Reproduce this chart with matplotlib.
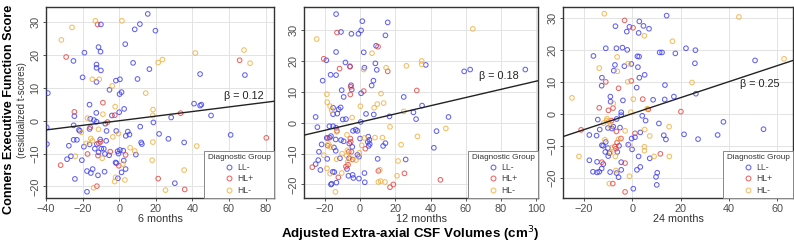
import matplotlib
matplotlib.use("Agg")
import matplotlib.pyplot as plt
from matplotlib.lines import Line2D
import numpy as np

plt.rcParams['font.family'] = ['Liberation Sans', 'DejaVu Sans']

groups = ["LL-", "HL+", "HL-"]
colors = {"LL-": "#3b3bef", "HL+": "#e5403c", "HL-": "#f2ad3a"}

# ---------- 6 months ----------
m6_LL_x = [15.6, -10, 11.3, 8.5, 19.8, 3.3, -11.3, -10.2, -19, -25, 7.6, 68.7, 44.2, 16.5, -12.4, -12.4, -10, -20,
           -12.4, 0.4, -1.8, 10, -5.3, 1.3, 0.2, -39, 40.9, 44.2, 44.9, -24.5, -16.2, 2.7, 0, -12.5, -4, 50.2, 28.4,
           -15.8, -13.8, -12.4, 18.7, -7.6, -24.9, -39.6, -16.2, -22, -21.5, -1.6, 4.7, 5.6, 3.6, 11.5, 21.8, -6.9,
           60.9, 26.9, -24.9, -23.1, -10.4, -7.1, -39.5, -27.5, -16.2, -12.2, 12, 12.4, 35.5, -19.3, -13.3, -9.8,
           -8.4, -11.3, 0.4, -0.9, 2.2, -7.8, -5.5, -0.4, 9.1, -26.4, -20.4, -2, -1.5, 2.5, -28.5, 3.5, 1.3, -14.5,
           -17.6, -15.5, -8, -11.6, -0.7, -24.2, 30.4, -17.6]
m6_LL_y = [32.5, 29.3, 29.4, 27.8, 27.4, 23.3, 22.4, 21, 20.7, 18.2, 17.6, 13.9, 14.2, 15.7, 17.1, 16.1, 15.3, 13.2,
           11.8, 12.6, 12.2, 12.7, 9.4, 8.7, 8.1, 8.4, 5.2, 4.6, 4.9, 1.4, 4.9, 3.6, 2.6, 2.4, 1.6, 1.6, 1,
           0.6, 0.2, -0.3, -0.5, -0.9, -1.4, -2, -2.5, -2.8, -3.1, -3.1, -3.3, -4.2, -4.6, -1.8, -4, -3.1,
           -4.3, -5.5, -5.8, -5.8, -5.7, -6.1, -7.1, -7.6, -7.2, -7.1, -6.6, -7.1, -6.6, -7.9, -8.5, -8.5,
           -8.5, -9.6, -8.9, -9.3, -9.1, -10.1, -10.5, -10, -10.3, -10.8, -12, -12.7, -12.9, -12.1, -11.7, -14.7, -15.7, -14.7,
           -15.3, -15.9, -15.5, -16.6, -17.5, -17.7, -19, -21.6]
m6_HLp_x = [-11.8, -29, 65.8, -24.5, -8.9, -2.4, 33.6, -6.4, -15.8, 80.4, -10.2, -11.1, -4.9, -17.3, -11.6, 3.5,
            -0.2, -32, 21.3, -12.2, 35.8]
m6_HLp_y = [29.3, 19.4, 18.4, 2.7, 5.5, 1.7, 2.3, -0.4, -2, -5.2, -6.4, -6.9, -9.4, -10.1, -10.6, -10.4,
            -13.7, -13.5, -17.6, -19.9, -20.9]
m6_HLm_x = [-13, 1.5, -25.8, -31.6, 23.6, 21.3, 41.6, 68.2, 71.5, -14.7, -10.9, -3.8, 14.5, -2.2, 18.5, -8.9,
            18.4, -17.3, -11.3, -20.7, -0.4, -3.5, -15.5, -14.7, -18, 18.4, 42.4, 6, 8.5, -24, -9.3, 18, 2, 35.5,
            -2, -2.5, 3.1, -14, 25.3]
m6_HLm_y = [30.4, 30.4, 28.4, 24.6, 18.6, 17.7, 20.6, 21.5, 17.5, 12.6, 12.6, 10.6, 8.4, 4.3, 3.4, 2,
            1.6, 0.8, -2.6, -3.5, -3.9, -4.9, -5.4, -6.1, -6.9, -6.5, -7.7, -8.2, -9.2, -10.8, -11.4, -12, -13.2, -15,
            -17.2, -18.5, -18, -20.4, -21.1]

# ---------- 12 months ----------
m12_LL_x = [-13.6, 1.3, 15.7, -10.8, -4.9, -0.9, 0.6, 14.4, 9.1, -13.6, 2.1, -19.1, -8.3, 8.7, 37.3, -5.7, 2.5,
            9.5, 59.1, 62.5, 93.8, -16.7, -13.6, -21.2, 7.6, 6.6, -5.1, -4.7, 0.6, -10.4, -9.3, 24.8, -15.3, -11,
            -12.1, -12.9, 35.2, 30.3, 31.8, -25.2, -15.3, 3.4, 7.8, 16.7, -9.8, -8, 0.4, 50.2, -24.2, -17.4, -15.3,
            -13.6, -4, -2.5, -1.5, 43.4, 4.7, -18.9, -17.2, -16.5, -13.8, 0, 5.3, -10.8, -9.3, 4.4, 14.4, 13.1, 5.5,
            4.9, -6.1, -21.8, -14.8, -13.8, -4.4, 41.9, -23.3, -1.5, -0.6, -18.6, -6.3, -11.4, 10, 25.9, -23.7,
            -25.2, -22.5, -15.5, -14.6, -7.4, -4.2, 2.5, -6.6, -3.8, -0.6, -16.1, -16.5, -13.4, 2.7]
m12_LL_y = [35.3, 33, 32.6, 29.5, 28.9, 28.9, 30, 28.4, 25, 23, 22.9, 20.3, 19.6, 19.3, 18.8, 18.2, 17.9,
            17.2, 16.7, 17.3, 17.3, 15.6, 15.5, 13.7, 13.7, 12.1, 12.2, 10.8, 9.6, 10.6, 8.4, 8.4, 4.9, 5,
            4.4, 3, 5.6, 3.4, 1.2, 1.9, 2.8, 2.9, 2.7, 2.1, 1.1, 1.2, 0.3, 1.9, -1.4, -1.1, -1.1,
            -1.6, -2.6, -2.2, -2.6, -2.7, -4.5, -4.9, -4.8, -4.3, -5.4, -5.1, -5.5, -5.6, -6, -6.2, -6.6, -7.5, -6.9,
            -7.5, -6.7, -7, -8, -9.1, -7.8, -8.1, -9.4, -10.4, -11, -11.7, -11.5, -11.5, -11.7, -11.9, -12.1,
            -13.4, -15.3, -15.9, -16, -15, -16.9, -16.3, -17.2, -17.9, -18.1, -19.8, -20, -19.4, -19.3]
m12_HLp_x = [-13.1, 10.2, -20.6, -11.6, -5.7, 15.7, -5.3, -5.5, 2.1, 32.2, -13.1, -18.2, -5.5, -5.3, -18.4, 3,
             -6.4, -4.9, -4.2, -6.8, -8, -27.1, 10.4, 25.2, -12.3, 45.6, 18.9, 17]
m12_HLp_y = [29.3, 24.7, 20.8, 17.6, 18.4, 16.7, 11.7, 9.2, 10.3, 10.5, -2.6, -4.9, -5.1, -6.2, -7.4, -8.4,
             -9.4, -9.4, -11.9, -13.6, -14.2, -14.4, -15.6, -16.4, -17.7, -18.5, -20, -20.9]
m12_HLm_x = [64, -24.6, 6.8, 35, 35, 26.3, 2.1, 14.8, -18.8, 11.9, -18.6, -17, -16.1, 0.2, 9.8, 8, 13.4, 24.8,
             -4.5, 17, -13.3, 48.7, -7.4, 8.5, 2.5, 12.7, 32.6, -17.8, 23.3, -16.7, 0.9, -7.2, -10.2, -0.4, -20.6,
             -7.6, -5.5, -13.3, -2.3, 21.6, -7, -18.8, -17, -10.4, 11.2, 21, 10.4, 11.7, 14.2, -14]
m12_HLm_y = [30.5, 27.2, 22.6, 20.1, 19, 18.5, 17.3, 17.9, 9.3, 9.5, 6.7, 5.4, 4.1, 5.4, 6.1, 4.9, 6.4, 3.7,
             1.7, -1.3, -2.9, -1.8, -3.9, -4.8, -4.9, -4.8, -4.4, -6.9, -7.1, -7.8, -7.3, -8.9, -10, -9.7, -10.5,
             -10.7, -11.5, -11.8, -12.1, -12.4, -12.7, -14.8, -16.5, -16.3, -15.2, -17.2, -19.2, -18.9, -19.2, -22.4]

# ---------- 24 months ----------
m24_LL_x = [14.2, 2.9, 4.6, -7, -1.2, 6.9, -2.3, 2.6, -11, -6.6, -4.1, -2.1, 22.2, 26.1, 11.3, 12.3, 17.8, -16.1,
            2.1, 2.8, 50.8, -7.2, -0.4, 25.9, -3.3, 2.3, -7.7, 5.1, -12.6, 2.9, 13.5, -12.7, 1.8, -9.1, 17.2, 26.3,
            -3.9, 8.6, 13.4, -9, -4.6, -4.6, 4.1, -14.3, -6.5, 5.5, 37.7, -13.5, -10.1, -8.4, -7.9, -5.1, 11, 54.3,
            3.3, -17.8, -14.8, 21.4, 35.3, 13, 1.1, -0.3, 13.9, 27.2, -11, -12.6, -12.1, -5.5, -1.7, -10.1, -0.1,
            -11.2, -9.5, -10, -6.2, 2.6, 7.2, -17.8, -14.6, -12, -4.6, 3.3, -16.3, -14.6, -13.7, -12.7, -9.2, -4.6,
            1.9, -6.5, -5.7, 10.3, 9.8, 10.1, 0.4]
m24_LL_y = [30.7, 28.9, 27.5, 27.4, 27.2, 26.6, 25.7, 25.3, 20.5, 20.5, 20.7, 20, 20.5, 19.9, 19.2, 19.2, 18.9, 18.1,
            18, 17.9, 16.7, 15.3, 15.6, 15.8, 14.9, 14.6, 13.5, 12.2, 11.3, 11.3, 9, 8.8, 8.2, 5.4, 5.4, 6.3,
            4.2, 4.4, 4.5, 3.8, 0.5, -0.4, -0.6, -1.8, -1.6, -2.1, -2.5, -4.9, -4.4, -4.6, -4, -4.3, -3, -4.8,
            -5.8, -6.6, -6.8, -6.4, -6.6, -6.7, -7.3, -7.7, -8, -7.9, -8.8, -9.8, -10, -10, -9.6, -10.7, -11.1,
            -11.9, -12.3, -13.2, -11.9, -13.3, -13.9, -14.5, -15, -15.7, -15.1, -16.6, -18.1, -18.3, -18.1, -17.1, -18.2, -17.5,
            -17.5, -18.5, -19.8, -18.4, -19.7, -22.2, -23.4]
m24_HLp_x = [-3.2, 0.3, -11, -0.4, -5.7, 4.3, -13.7, -8, -9.9, 6.6, 20.1, -8.6, -21.2, -6.6, 1.1, -4.7, -6.3,
             -7.2, -6.8, 11.6, -12.6, -3, -8.1, -3]
m24_HLp_y = [29.2, 26.9, 10, 10.3, 8, 4.6, 1.9, 1.8, 1.1, 1.4, 0.7, -2.1, -5, -5.5, -6.1, -7.7, -9,
             -10.2, -10.9, -12.5, -15.1, -15.4, -21.8, -24.4]
m24_HLm_x = [-11.6, 44.1, 5, 16.6, -6.3, 62.8, -1.7, -13.7, -6.2, -1.9, 24.7, -25, 0.4, -7.9, 6.1, -0.6, -10.5,
             -10.6, -9.7, -9.1, -11.9, -3, 15.2, 5.1, 7.2, -11.4, -5.7, -1.1, -8.4, 5, 5, -9, -7, -22.1, 9, 15.3,
             -6.8, -1.2, -9.5]
m24_HLm_y = [31.3, 30.3, 24.4, 22.7, 17.8, 17.2, 15.7, 14.3, 13.3, 10, 9.8, 5, 4.6, 3.3, 1.6, 0.5, -1.5,
             -2.1, -2.4, -3.8, -2.9, -5.3, -4, -4.9, -6.9, -8.1, -7.9, -9.9, -10.5, -10.3, -11.5, -12.1, -13.3, -13.3, -13.3, -13.3,
             -17.7, -19.5, -21.8]

panels = [
    dict(label="6 months", LL=(m6_LL_x, m6_LL_y), HLp=(m6_HLp_x, m6_HLp_y), HLm=(m6_HLm_x, m6_HLm_y),
         beta="β = 0.12", intercept=0.0, slope=0.07, xlim=(-40, 84.6), ylim=(-23.5, 34.6),
         xticks=[-40, -20, 0, 20, 40, 60, 80], yticks=[-20, -10, 0, 10, 20, 30], beta_pos=(68, 7.6)),
    dict(label="12 months", LL=(m12_LL_x, m12_LL_y), HLp=(m12_HLp_x, m12_HLp_y), HLm=(m12_HLm_x, m12_HLm_y),
         beta="β = 0.18", intercept=0.23, slope=0.133, xlim=(-31.8, 101), ylim=(-24.4, 37.6),
         xticks=[-20, 0, 20, 40, 60, 80, 100], yticks=[-20, -10, 0, 10, 20, 30], beta_pos=(78.7, 15.2)),
    dict(label="24 months", LL=(m24_LL_x, m24_LL_y), HLp=(m24_HLp_x, m24_HLp_y), HLm=(m24_HLm_x, m24_HLm_y),
         beta="β = 0.25", intercept=0.07, slope=0.25, xlim=(-28.7, 66.5), ylim=(-26.3, 33.4),
         xticks=[-20, 0, 20, 40, 60], yticks=[-20, -10, 0, 10, 20, 30], beta_pos=(52.7, 9.4)),
]

W, H = 794, 244
fig = plt.figure(figsize=(W / 100, H / 100), dpi=100)
boxes = [(46, 274), (304, 538), (563, 793)]
top, bottom = 7, 198

for (l, r), p in zip(boxes, panels):
    ax = fig.add_axes([l / W, 1 - bottom / H, (r - l) / W, (bottom - top) / H])
    ax.set_xlim(*p["xlim"])
    ax.set_ylim(*p["ylim"])
    ax.set_xticks(p["xticks"])
    ax.set_yticks(p["yticks"])
    ax.grid(True, color="#e3e3e3", linewidth=0.7)
    ax.set_axisbelow(True)
    for s in ax.spines.values():
        s.set_color("#333333")
        s.set_linewidth(1.0)
    ax.tick_params(axis="both", labelsize=7.8, length=2.5, width=0.7, color="#555555", pad=1.5,
                   labelcolor="#4d4d4d")
    for lab in ax.get_yticklabels():
        lab.set_rotation(90)
        lab.set_va("center")
    for key, g in zip(["LL", "HLp", "HLm"], groups):
        xs, ys = p[key]
        ax.scatter(xs, ys, s=11, facecolors="none", edgecolors=colors[g], linewidths=0.75, alpha=0.8, zorder=3)
    xx = np.array(p["xlim"])
    ax.plot(xx, p["intercept"] + p["slope"] * xx, color="#222222", linewidth=1.0, zorder=4)
    ax.text(p["beta_pos"][0], p["beta_pos"][1], p["beta"], fontsize=7.8, ha="center", va="center",
            color="#222222", zorder=5)
    ax.set_xlabel(p["label"], fontsize=7.8, labelpad=0, color="#333333")
    handles = [Line2D([], [], marker="o", linestyle="none", markerfacecolor="none",
                      markeredgecolor=colors[g], markersize=3.5, markeredgewidth=0.75, alpha=0.8) for g in groups]
    leg = ax.legend(handles, groups, title="Diagnostic Group", loc="lower right", fontsize=6.2,
                    title_fontsize=5.9, frameon=True, fancybox=False, borderaxespad=0, framealpha=1,
                    edgecolor="#888888", handlelength=1.0, handletextpad=0.4, labelspacing=0.25,
                    borderpad=0.4)
    leg.get_frame().set_linewidth(0.7)
    leg.set_zorder(10)
    for t in leg.get_texts():
        t.set_color("#444444")
    leg.get_title().set_color("#333333")

fig.text(9 / W, 1 - 109 / H, "Conners Executive Function Score", rotation=90, fontsize=9.1, fontweight="bold",
         ha="center", va="center")
fig.text(22 / W, 1 - 110 / H, "(residualized t-scores)", rotation=90, fontsize=7, ha="center", va="center",
         color="#333333")
fig.text(410 / W, 1 - 234 / H, "Adjusted Extra-axial CSF Volumes (cm$^3$)", fontsize=9.6, fontweight="bold",
         ha="center", va="center")

fig.savefig("out.png", dpi=100)
